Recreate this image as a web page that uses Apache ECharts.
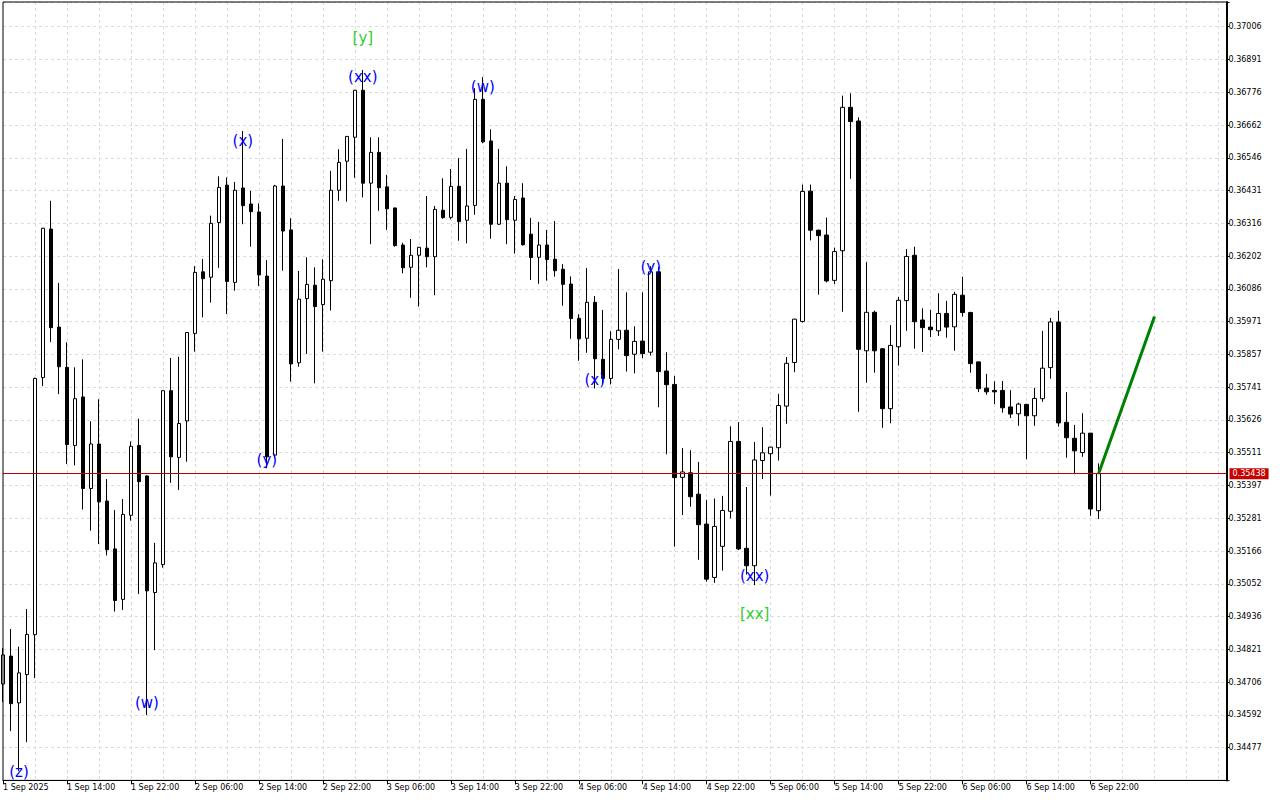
<!DOCTYPE html>
<html>
<head>
<meta charset="utf-8">
<script src="https://cdn.jsdelivr.net/npm/echarts@6/dist/echarts.min.js"></script>
<style>
html,body{margin:0;padding:0;background:#fff;}
#chart{width:1280px;height:800px;}
</style>
</head>
<body>
<div id="chart"></div>
<script>
// ---------- data ----------
const firstLabel = '1 Sep 2025';
const startHourUTC = Date.UTC(2025, 8, 1, 6);   // first candle: 1 Sep 06:00
const slotCount = 154;                           // candles + empty future space
const categories = [];
for (let i = 0; i < slotCount; i++) {
  const d = new Date(startHourUTC + i * 3600000);
  const hh = String(d.getUTCHours()).padStart(2, '0');
  categories.push(d.getUTCDate() + ' Sep ' + hh + ':00');
}

const open = [
0.34700,0.34798,0.34634,0.34733,0.34873,0.35775,0.36296,0.35952,0.35811,0.35537,
0.35707,0.35386,0.35542,0.35342,0.35174,0.34997,0.35292,0.35537,0.35430,0.35021,
0.35119,0.35729,0.35495,0.35623,0.35930,0.36146,0.36127,0.36319,0.36450,0.36109,
0.36440,0.36384,0.36356,0.36131,0.35503,0.36447,0.36293,0.35827,0.36052,0.36099,
0.36031,0.36115,0.36432,0.36534,0.36618,0.36783,0.36457,0.36565,0.36444,0.36370,
0.36240,0.36162,0.36204,0.36229,0.36199,0.36362,0.36337,0.36446,0.36327,0.36379,
0.36751,0.36605,0.36313,0.36457,0.36327,0.36405,0.36278,0.36197,0.36240,0.36190,
0.36155,0.36103,0.35983,0.35913,0.36039,0.35839,0.35772,0.35909,0.35941,0.35857,
0.35903,0.35864,0.36146,0.35798,0.35751,0.35425,0.35441,0.35366,0.35261,0.35074,
0.35183,0.35306,0.35551,0.35176,0.35115,0.35484,0.35508,0.35529,0.35675,0.35828,
0.35972,0.36429,0.36292,0.36275,0.36116,0.36220,0.36723,0.36675,0.35869,0.36004,
0.35876,0.35666,0.35883,0.36045,0.36204,0.35977,0.35952,0.35939,0.36000,0.35953,
0.36064,0.36003,0.35830,0.35738,0.35730,0.35730,0.35672,0.35648,0.35681,0.35641,
0.35701,0.35810,0.35970,0.35618,0.35562,0.35512,0.35580,0.35308
];
const high = [
0.34826,0.34893,0.34831,0.34963,0.35775,0.36300,0.36395,0.36107,0.35899,0.35811,
0.35839,0.35622,0.35699,0.35419,0.35310,0.35349,0.35551,0.35631,0.35432,0.35195,
0.35731,0.35844,0.35848,0.35935,0.36166,0.36191,0.36343,0.36481,0.36477,0.36461,
0.36640,0.36430,0.36386,0.36187,0.36451,0.36612,0.36334,0.36149,0.36197,0.36162,
0.36190,0.36500,0.36576,0.36622,0.36784,0.36854,0.36618,0.36618,0.36486,0.36371,
0.36248,0.36261,0.36233,0.36412,0.36377,0.36474,0.36507,0.36545,0.36577,0.36790,
0.36829,0.36646,0.36577,0.36516,0.36412,0.36457,0.36335,0.36321,0.36293,0.36324,
0.36173,0.36130,0.35997,0.36159,0.36061,0.36012,0.35938,0.36156,0.36074,0.35955,
0.36074,0.36166,0.36163,0.35864,0.35781,0.35528,0.35520,0.35479,0.35346,0.35351,
0.35360,0.35604,0.35619,0.35391,0.35549,0.35601,0.35532,0.35718,0.35847,0.35981,
0.36452,0.36452,0.36294,0.36336,0.36231,0.36764,0.36772,0.36688,0.36180,0.36010,
0.35878,0.35959,0.36058,0.36226,0.36234,0.36018,0.36012,0.36071,0.36044,0.36076,
0.36129,0.36006,0.35831,0.35788,0.35762,0.35763,0.35731,0.35687,0.35683,0.35739,
0.35939,0.35984,0.36009,0.35724,0.35609,0.35650,0.35581,0.35474
];
const low = [
0.34637,0.34535,0.34395,0.34496,0.34721,0.35745,0.35900,0.35717,0.35472,0.35467,
0.35312,0.35238,0.35191,0.35151,0.34954,0.34960,0.35273,0.35016,0.34591,0.34819,
0.35108,0.35406,0.35381,0.35480,0.35866,0.35986,0.36038,0.36160,0.35998,0.36080,
0.36313,0.36234,0.36096,0.35457,0.35492,0.36150,0.35761,0.35813,0.35858,0.35755,
0.35866,0.36010,0.36395,0.36392,0.36476,0.36407,0.36243,0.36360,0.36293,0.36234,
0.36141,0.36055,0.36024,0.36162,0.36064,0.36332,0.36330,0.36255,0.36246,0.36346,
0.36597,0.36262,0.36310,0.36243,0.36210,0.36238,0.36117,0.36104,0.36115,0.36129,
0.36027,0.35911,0.35834,0.35862,0.35737,0.35752,0.35751,0.35874,0.35796,0.35790,
0.35843,0.35852,0.35671,0.35506,0.35182,0.35293,0.35322,0.35136,0.35059,0.35055,
0.35098,0.35281,0.35170,0.35084,0.35047,0.35419,0.35361,0.35484,0.35613,0.35794,
0.35968,0.36256,0.36066,0.36109,0.36103,0.36006,0.36472,0.35655,0.35757,0.35792,
0.35599,0.35615,0.35817,0.35939,0.35876,0.35865,0.35917,0.35921,0.35915,0.35869,
0.35989,0.35792,0.35724,0.35715,0.35682,0.35652,0.35633,0.35606,0.35489,0.35606,
0.35690,0.35771,0.35603,0.35494,0.35436,0.35497,0.35290,0.35279
];
const close = [
0.34802,0.34631,0.34739,0.34874,0.35772,0.36299,0.35950,0.35813,0.35540,0.35701,
0.35386,0.35542,0.35339,0.35171,0.34993,0.35295,0.35534,0.35410,0.35027,0.35125,
0.35729,0.35497,0.35614,0.35933,0.36144,0.36122,0.36316,0.36442,0.36112,0.36432,
0.36378,0.36357,0.36135,0.35497,0.36447,0.36289,0.35823,0.36050,0.36102,0.36024,
0.36120,0.36432,0.36530,0.36621,0.36783,0.36457,0.36565,0.36441,0.36367,0.36238,
0.36160,0.36204,0.36232,0.36199,0.36365,0.36336,0.36446,0.36322,0.36377,0.36751,
0.36602,0.36313,0.36457,0.36329,0.36400,0.36241,0.36196,0.36240,0.36189,0.36150,
0.36102,0.35982,0.35911,0.36039,0.35841,0.35772,0.35909,0.35941,0.35852,0.35902,
0.35859,0.36146,0.35796,0.35750,0.35424,0.35444,0.35357,0.35259,0.35068,0.35253,
0.35309,0.35551,0.35174,0.35115,0.35486,0.35511,0.35531,0.35677,0.35825,0.35980,
0.36428,0.36292,0.36273,0.36114,0.36217,0.36723,0.36673,0.35874,0.36004,0.35869,
0.35666,0.35888,0.36046,0.36200,0.35971,0.35950,0.35943,0.36000,0.35952,0.36067,
0.36003,0.35824,0.35736,0.35725,0.35725,0.35669,0.35647,0.35682,0.35641,0.35702,
0.35808,0.35970,0.35616,0.35564,0.35518,0.35580,0.35314,0.35438
];

const yTickLabels = [
'0.34477','0.34592','0.34706','0.34821','0.34936','0.35052','0.35166','0.35281',
'0.35397','0.35511','0.35626','0.35741','0.35857','0.35971','0.36086','0.36202',
'0.36316','0.36431','0.36546','0.36662','0.36776','0.36891','0.37006'
];
const firstTickValue = 0.344769;
const tickStep = 0.0011495;
const axisTopValue = 0.370925;

const currentPrice = 0.35438;

const forecastIdx = [137, 144];
const forecastPrice = [0.35438, 0.35989];

const waveText  = ['(z)','(w)','(x)','(y)','(xx)','[y]','(w)','(x)','(y)','(xx)','[xx]'];
const waveIdx   = [2, 18, 30, 33, 45, 45, 60, 74, 81, 94, 94];
const wavePrice = [0.34391,0.34633,0.36605,0.35486,0.36830,0.36966,0.36794,0.35767,0.36164,0.35080,0.34946];

// ---------- chart ----------
const lastCandle = open.length - 1;
const yMin = firstTickValue - tickStep;
const candleData = open.map((o, i) => [o, close[i], low[i], high[i]]);
const axisFont = 'DejaVu Sans';

const chart = echarts.init(document.getElementById('chart'), null, {renderer: 'svg', width: 1280, height: 800});

const option = {
  animation: false,
  backgroundColor: '#ffffff',
  grid: {left: 2.5, right: 53.5, top: 2, bottom: 19.6, show: true, z: 10, backgroundColor: 'transparent', borderColor: '#000', borderWidth: 1, containLabel: false},
  xAxis: {
    type: 'category',
    data: categories,
    boundaryGap: false,
    axisLine: {show: true, lineStyle: {color: '#000', width: 1}},
    axisTick: {show: true, length: 4, interval: (i) => i % 8 === 0 && i <= lastCandle, lineStyle: {color: '#000'}},
    axisLabel: {
      show: true, interval: (i) => i % 8 === 0 && i <= lastCandle,
      align: 'left', margin: 3, fontSize: 8, fontFamily: axisFont, color: '#000',
      formatter: (v, i) => (i === 0 ? firstLabel : v)
    },
    splitLine: {show: true, interval: (i) => i % 4 === 0 && i > 0, lineStyle: {color: '#dcdcdc', width: 1, type: [3, 3]}}
  },
  yAxis: {
    type: 'value',
    position: 'right',
    min: yMin,
    max: axisTopValue,
    interval: tickStep,
    scale: true,
    axisLine: {show: true, lineStyle: {color: '#000', width: 2}},
    axisTick: {show: true, length: 3, inside: false, lineStyle: {color: '#000'}},
    axisLabel: {
      show: true, margin: 2, fontSize: 8, fontFamily: axisFont, color: '#000',
      formatter: function (v) {
        const k = Math.round((v - yMin) / tickStep);
        if (k < 1 || k > yTickLabels.length) return '';
        if (Math.abs(v - (yMin + k * tickStep)) > tickStep * 0.05) return '';
        return yTickLabels[k - 1];
      }
    },
    splitLine: {show: true, lineStyle: {color: '#dcdcdc', width: 1, type: [3, 3]}}
  },
  series: [
    {
      type: 'candlestick',
      data: candleData,
      barWidth: 4,
      clip: true,
      itemStyle: {color: '#ffffff', color0: '#000000', borderColor: '#000000', borderColor0: '#000000', borderWidth: 1},
      z: 3
    },
    {
      type: 'line',
      data: forecastIdx.map((x, i) => [x, forecastPrice[i]]),
      symbol: 'none',
      clip: false,
      lineStyle: {color: '#008000', width: 3},
      z: 4,
      markLine: {
        silent: true,
        symbol: ['none', 'none'],
        animation: false,
        precision: 5,
        data: [{yAxis: currentPrice}],
        lineStyle: {color: '#c00000', width: 1, type: 'solid'},
        label: {
          show: true, position: 'end', distance: 3,
          formatter: currentPrice.toFixed(5),
          backgroundColor: '#c80000', color: '#ffffff',
          fontSize: 8, fontFamily: axisFont, padding: [2, 3, 1, 3]
        }
      }
    },
    {
      type: 'custom',
      clip: true,
      z: 5,
      data: waveIdx.map((x, i) => [x, wavePrice[i]]),
      renderItem: function (params, api) {
        const i = params.dataIndex;
        const p = api.coord([api.value(0), api.value(1)]);
        const txt = waveText[i];
        const isMajor = txt.charAt(0) === '[';
        return {
          type: 'text',
          x: p[0], y: p[1],
          style: {
            text: txt,
            fill: isMajor ? '#32cd32' : '#0000ff',
            font: '15px "DejaVu Sans"',
            align: 'center',
            verticalAlign: 'middle'
          }
        };
      }
    }
  ]
};
chart.setOption(option);
</script>
</body>
</html>
